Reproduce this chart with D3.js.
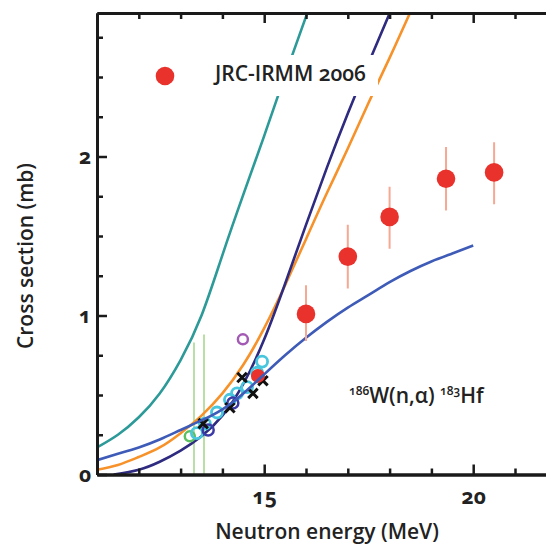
<!DOCTYPE html>
<html>
<head>
<meta charset="utf-8">
<script src="https://cdn.jsdelivr.net/npm/d3@7"></script>
<style>
    html, body { margin: 0; padding: 0; background: #fff; }
    svg { display: block; font-family: "Open Sans", "Noto Sans", sans-serif; }
</style>
</head>
<body>
<div id="chart"></div>
<script>
// Data
const tealE  = [11, 11.5, 12, 12.5, 13, 13.5, 14, 14.5, 15, 15.5, 16, 16.2];
const tealS  = [0.17, 0.25, 0.36, 0.51, 0.72, 1.00, 1.38, 1.76, 2.13, 2.51, 2.88, 3.03];

const orangeE = [11, 11.5, 12, 12.5, 13, 13.5, 14, 14.5, 15, 15.5, 16, 16.5, 17, 17.5, 18, 18.5, 18.7];
const orangeS = [0.03, 0.06, 0.11, 0.17, 0.26, 0.37, 0.51, 0.69, 0.92, 1.19, 1.48, 1.77, 2.05, 2.34, 2.62, 2.91, 3.02];

const navyE = [11.4, 12, 12.5, 13, 13.5, 14, 14.5, 15, 15.5, 16, 16.5, 17, 17.5, 18, 18.2];
const navyS = [0.0, 0.03, 0.08, 0.15, 0.24, 0.37, 0.57, 0.85, 1.20, 1.57, 1.93, 2.27, 2.59, 2.90, 3.02];

const blueE = [11, 11.5, 12, 12.5, 13, 13.5, 14, 14.5, 15, 15.5, 16, 16.5, 17, 17.5, 18, 18.5, 19, 19.5, 20];
const blueS = [0.09, 0.13, 0.17, 0.22, 0.28, 0.34, 0.41, 0.51, 0.63, 0.75, 0.86, 0.96, 1.05, 1.13, 1.21, 1.28, 1.34, 1.39, 1.44];

// JRC-IRMM 2006 points
const jrcE    = [16.0, 17.0, 18.0, 19.35, 20.5];
const jrcS    = [1.01, 1.37, 1.62, 1.86, 1.90];
const jrcLow  = [0.84, 1.17, 1.42, 1.66, 1.70];
const jrcHigh = [1.19, 1.57, 1.81, 2.06, 2.09];
const jrc14E = [14.85];
const jrc14S = [0.62];

// other measurements near 14 MeV
const cyanE = [13.39, 13.58, 13.87, 14.18, 14.35, 14.59, 14.83, 14.95];
const cyanS = [0.26, 0.32, 0.39, 0.47, 0.51, 0.55, 0.64, 0.71];
const navyPtE = [13.66, 14.25];
const navyPtS = [0.28, 0.45];
const crossE = [13.54, 14.18, 14.47, 14.73, 14.97];
const crossS = [0.32, 0.42, 0.61, 0.51, 0.59];
const purpleE = [14.49];
const purpleS = [0.85];
const greenE = [13.22];
const greenS = [0.24];
const greenBarE = [13.32, 13.56];
const greenBarTop = [0.83, 0.88];

const xMajor = [15, 20];
const xMinor = [12, 13, 14, 16, 17, 18, 19, 21];
const yMajor = [0, 1, 2];
const yMinor = [0.25, 0.5, 0.75, 1.25, 1.5, 1.75, 2.25, 2.5, 2.75];

const WIDTH = 546;
const HEIGHT = 544;
const PLOT = { left: 97, right: 546, top: 13, bottom: 474.5 };

const svg = d3.select('#chart').append('svg')
    .attr('width', WIDTH)
    .attr('height', HEIGHT);

const x = d3.scaleLinear()
    .domain([11, 11 + (PLOT.right - PLOT.left) / 41.8])
    .range([PLOT.left, PLOT.right]);
const y = d3.scaleLinear()
    .domain([0, (PLOT.bottom - PLOT.top) / 159])
    .range([PLOT.bottom, PLOT.top]);

svg.append('clipPath').attr('id', 'plotClip')
    .append('rect')
    .attr('x', PLOT.left)
    .attr('y', PLOT.top)
    .attr('width', PLOT.right - PLOT.left)
    .attr('height', PLOT.bottom - PLOT.top);

const plot = svg.append('g').attr('clip-path', 'url(#plotClip)');

// green vertical error bars
plot.selectAll('.green-bar')
    .data(greenBarE)
    .join('line')
    .attr('x1', d => x(d))
    .attr('x2', d => x(d))
    .attr('y1', y(0))
    .attr('y2', (d, i) => y(greenBarTop[i]))
    .attr('stroke', '#b9dfa6')
    .attr('stroke-width', 2);

const line = d3.line()
    .x(d => x(d[0]))
    .y(d => y(d[1]))
    .curve(d3.curveNatural);

const drawCurve = (es, ss, color) => {
    plot.append('path')
        .attr('d', line(es.map((e, i) => [e, ss[i]])))
        .attr('fill', 'none')
        .attr('stroke', color)
        .attr('stroke-width', 2.6);
};

drawCurve(tealE, tealS, '#2c9a98');
drawCurve(orangeE, orangeS, '#f7922a');
drawCurve(navyE, navyS, '#2e2b80');

// markers in the 14 MeV cluster
plot.selectAll('.green-pt')
    .data(greenE)
    .join('circle')
    .attr('cx', d => x(d))
    .attr('cy', (d, i) => y(greenS[i]))
    .attr('r', 5)
    .attr('fill', 'none')
    .attr('stroke', '#5cc060')
    .attr('stroke-width', 2.5);

plot.selectAll('.cyan-pt')
    .data(cyanE)
    .join('circle')
    .attr('cx', d => x(d))
    .attr('cy', (d, i) => y(cyanS[i]))
    .attr('r', 5.5)
    .attr('fill', 'none')
    .attr('stroke', '#48c6de')
    .attr('stroke-width', 2.8);

plot.selectAll('.navy-pt')
    .data(navyPtE)
    .join('circle')
    .attr('cx', d => x(d))
    .attr('cy', (d, i) => y(navyPtS[i]))
    .attr('r', 5.5)
    .attr('fill', 'none')
    .attr('stroke', '#3b3aa6')
    .attr('stroke-width', 2.5);

const crossSymbol = d3.symbol().type(d3.symbolTimes || d3.symbolCross).size(60);
plot.selectAll('.cross-pt')
    .data(crossE)
    .join('path')
    .attr('transform', (d, i) => `translate(${x(d)},${y(crossS[i])})`)
    .attr('d', crossSymbol())
    .attr('fill', 'none')
    .attr('stroke', '#111')
    .attr('stroke-width', 3);

plot.selectAll('.purple-pt')
    .data(purpleE)
    .join('circle')
    .attr('cx', d => x(d))
    .attr('cy', (d, i) => y(purpleS[i]))
    .attr('r', 5)
    .attr('fill', 'none')
    .attr('stroke', '#a25ab4')
    .attr('stroke-width', 2.5);

plot.selectAll('.jrc14-pt')
    .data(jrc14E)
    .join('circle')
    .attr('cx', d => x(d))
    .attr('cy', (d, i) => y(jrc14S[i]))
    .attr('r', 7)
    .attr('fill', '#e8322b');

drawCurve(blueE, blueS, '#3e5bb8');

// JRC-IRMM 2006
plot.selectAll('.jrc-err')
    .data(jrcE)
    .join('line')
    .attr('x1', d => x(d))
    .attr('x2', d => x(d))
    .attr('y1', (d, i) => y(jrcLow[i]))
    .attr('y2', (d, i) => y(jrcHigh[i]))
    .attr('stroke', '#f6a893')
    .attr('stroke-width', 2);

plot.selectAll('.jrc-pt')
    .data(jrcE)
    .join('circle')
    .attr('cx', d => x(d))
    .attr('cy', (d, i) => y(jrcS[i]))
    .attr('r', 9.3)
    .attr('fill', '#e8322b');

// legend
svg.append('rect')
    .attr('x', 208)
    .attr('y', 55)
    .attr('width', 170)
    .attr('height', 41)
    .attr('fill', '#fff');
svg.append('circle')
    .attr('cx', 165)
    .attr('cy', 76)
    .attr('r', 9.3)
    .attr('fill', '#e8322b');
svg.append('text')
    .attr('x', 215)
    .attr('y', 81)
    .attr('font-size', 21)
    .attr('font-weight', 600)
    .attr('fill', '#222')
    .style('font-variant-numeric', 'oldstyle-nums')
    .text('JRC-IRMM 2006');

// reaction label
const reaction = svg.append('text')
    .attr('x', 349)
    .attr('y', 403)
    .attr('font-size', 21)
    .attr('font-weight', 600)
    .attr('fill', '#222')
    .style('font-variant-numeric', 'oldstyle-nums');
reaction.append('tspan').attr('font-size', 12).attr('dy', -8).text('186');
reaction.append('tspan').attr('dy', 8).text('W(n,α) ');
reaction.append('tspan').attr('font-size', 12).attr('dy', -8).text('183');
reaction.append('tspan').attr('dy', 8).text('Hf');

// axes
const styleAxis = g => {
    g.select('.domain').attr('stroke', '#1a1a1a').attr('stroke-width', 3);
    g.selectAll('.tick line').attr('stroke', '#1a1a1a').attr('stroke-width', 2.5);
    g.selectAll('.tick text')
        .attr('fill', '#222')
        .attr('font-size', 21)
        .attr('font-weight', 700)
        .attr('font-family', '"Open Sans", "Noto Sans", sans-serif')
        .style('font-variant-numeric', 'oldstyle-nums');
};

svg.append('g')
    .attr('transform', `translate(0,${PLOT.bottom})`)
    .call(d3.axisBottom(x).tickValues(xMinor).tickSize(-6).tickSizeOuter(0).tickFormat(''))
    .call(styleAxis);
svg.append('g')
    .attr('transform', `translate(0,${PLOT.bottom})`)
    .call(d3.axisBottom(x).tickValues(xMajor).tickSize(-10).tickSizeOuter(0).tickPadding(15))
    .call(styleAxis);

svg.append('g')
    .attr('transform', `translate(0,${PLOT.top})`)
    .call(d3.axisTop(x).tickValues(xMinor).tickSize(-6).tickSizeOuter(0).tickFormat(''))
    .call(styleAxis);
svg.append('g')
    .attr('transform', `translate(0,${PLOT.top})`)
    .call(d3.axisTop(x).tickValues(xMajor).tickSize(-10).tickSizeOuter(0).tickFormat(''))
    .call(styleAxis);

svg.append('g')
    .attr('transform', `translate(${PLOT.left},0)`)
    .call(d3.axisLeft(y).tickValues(yMinor).tickSize(-6).tickSizeOuter(0).tickFormat(''))
    .call(styleAxis);
svg.append('g')
    .attr('transform', `translate(${PLOT.left},0)`)
    .call(d3.axisLeft(y).tickValues(yMajor).tickSize(-10).tickSizeOuter(0).tickPadding(6).tickFormat(d3.format('d')))
    .call(styleAxis);

// axis titles
svg.append('text')
    .attr('x', 327)
    .attr('y', 539)
    .attr('text-anchor', 'middle')
    .attr('font-size', 21)
    .attr('font-weight', 600)
    .attr('fill', '#222')
    .text('Neutron energy (MeV)');

svg.append('text')
    .attr('transform', 'translate(33,256) rotate(-90)')
    .attr('text-anchor', 'middle')
    .attr('font-size', 21)
    .attr('font-weight', 600)
    .attr('fill', '#222')
    .text('Cross section (mb)');
</script>
</body>
</html>
